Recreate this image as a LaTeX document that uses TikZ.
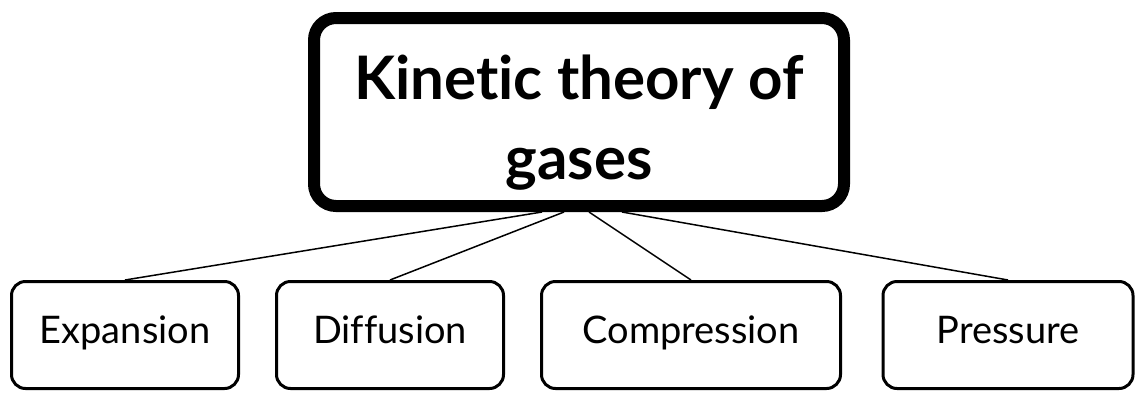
\documentclass[tikz,border=0pt]{standalone}
\usepackage{fontspec}
\setmainfont[Ligatures=NoCommon]{Lato}
\usetikzlibrary{positioning, calc}

\begin{document}
\begin{tikzpicture}[x=0.5pt, y=-0.5pt,
    topic/.style={draw, line width=6pt, rounded corners=11pt, minimum width=265pt, minimum height=94pt, align=center, font=\bfseries\fontsize{30}{40}\selectfont},
    sub/.style={draw, line width=1.5pt, rounded corners=7pt, minimum height=53.5pt, text height=0.9em, text depth=0.1em, font=\fontsize{19}{23}\selectfont},
    link/.style={line width=0.75pt}]
\useasboundingbox (0,0) rectangle (1136,392);

% main topic
\node[topic] (kin) at (579,112) {\rule{0pt}{33pt}Kinetic theory of\\gases};

% sub topics
\node[sub, minimum width=113.5pt] (exp) at (125,335) {Expansion};
\node[sub, minimum width=113.5pt] (dif) at (390,335) {Diffusion};
\node[sub, minimum width=149.5pt] (com) at (691,335) {Compression};
\node[sub, minimum width=125pt] (pre) at (1008,335) {Pressure};

% links to the main topic
\draw[link] (exp.north) -- ($(kin.south)+(-37,0)$);
\draw[link] (dif.north) -- ($(kin.south)+(-15,0)$);
\draw[link] (com.north) -- ($(kin.south)+(10,0)$);
\draw[link] (pre.north) -- ($(kin.south)+(43,0)$);
\end{tikzpicture}
\end{document}
